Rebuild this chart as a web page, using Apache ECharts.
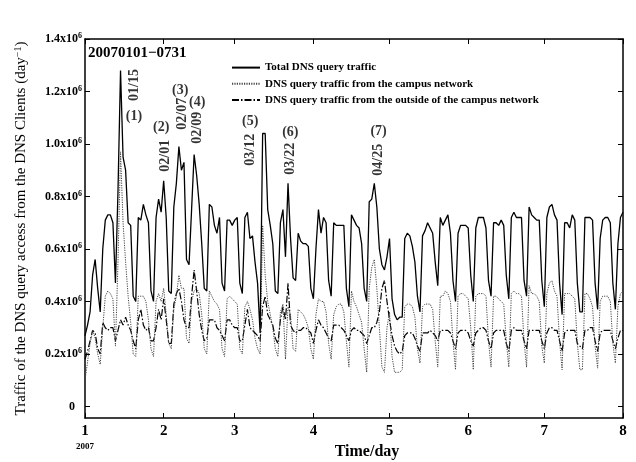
<!DOCTYPE html>
<html><head><meta charset="utf-8">
<script src="https://cdn.jsdelivr.net/npm/echarts@6/dist/echarts.min.js"></script>
<style>html,body{margin:0;padding:0;background:#fff}#c{width:636px;height:462px}</style>
</head><body><div id="c"></div>
<script>
// x = day of year 2007 (0 = Jan 1); month ticks at month starts
const monthStartDays = [0, 31, 59, 90, 120, 151, 181, 212];
const monthLabels = ['1', '2', '3', '4', '5', '6', '7', '8'];
const yTicks = [0, 0.2, 0.4, 0.6, 0.8, 1.0, 1.2, 1.4]; // x10^6

// daily traffic, x10^6 (Mon..Sun rows)
const totalTraffic = [
0.27,0.31,0.36,0.50,0.56,0.45,0.36,
0.60,0.71,0.73,0.73,0.70,0.47,0.82,
1.28,0.95,0.90,0.70,0.69,0.42,0.40,
0.72,0.71,0.77,0.73,0.70,0.44,0.40,
0.72,0.79,0.74,0.86,0.72,0.44,0.43,
0.76,0.85,0.99,0.90,0.93,0.56,0.54,
0.75,0.96,0.88,0.77,0.62,0.45,0.44,
0.77,0.76,0.69,0.66,0.72,0.47,0.44,
0.71,0.71,0.69,0.71,0.72,0.47,0.43,
0.72,0.74,0.64,0.65,0.55,0.47,0.28,
1.04,1.04,0.75,0.69,0.62,0.44,0.43,
0.70,0.75,0.57,0.85,0.64,0.49,0.48,
0.66,0.63,0.62,0.62,0.61,0.45,0.41,
0.60,0.75,0.66,0.72,0.70,0.48,0.42,
0.70,0.69,0.69,0.69,0.69,0.45,0.38,
0.73,0.71,0.69,0.68,0.62,0.45,0.40,
0.78,0.79,0.85,0.76,0.60,0.54,0.52,
0.57,0.64,0.41,0.35,0.33,0.34,0.34,
0.64,0.66,0.65,0.61,0.55,0.42,0.36,
0.65,0.67,0.70,0.68,0.66,0.55,0.46,
0.72,0.69,0.71,0.73,0.66,0.48,0.40,
0.66,0.69,0.69,0.69,0.68,0.50,0.40,
0.68,0.72,0.72,0.72,0.68,0.48,0.42,
0.70,0.70,0.69,0.71,0.69,0.50,0.41,
0.72,0.74,0.72,0.72,0.72,0.48,0.42,
0.76,0.73,0.72,0.71,0.71,0.48,0.38,
0.72,0.76,0.77,0.73,0.71,0.47,0.35,
0.70,0.70,0.68,0.73,0.71,0.47,0.36,
0.36,0.72,0.72,0.72,0.71,0.47,0.37,
0.64,0.71,0.72,0.72,0.70,0.47,0.37,
0.62,0.72,0.74
];
const campusTraffic = [
0.10,0.17,0.24,0.29,0.26,0.20,0.16,
0.30,0.42,0.44,0.43,0.41,0.23,0.55,
0.97,0.70,0.55,0.42,0.32,0.20,0.19,
0.42,0.42,0.42,0.40,0.33,0.22,0.19,
0.40,0.43,0.40,0.45,0.35,0.24,0.22,
0.37,0.42,0.50,0.45,0.45,0.26,0.24,
0.40,0.44,0.45,0.43,0.35,0.22,0.20,
0.44,0.42,0.40,0.39,0.37,0.22,0.19,
0.41,0.42,0.41,0.40,0.39,0.22,0.20,
0.38,0.40,0.37,0.33,0.26,0.22,0.20,
0.69,0.50,0.40,0.35,0.30,0.22,0.19,
0.36,0.39,0.18,0.38,0.35,0.22,0.21,
0.37,0.36,0.35,0.33,0.30,0.22,0.18,
0.35,0.41,0.40,0.40,0.36,0.24,0.18,
0.35,0.38,0.39,0.39,0.36,0.25,0.15,
0.44,0.40,0.38,0.35,0.32,0.22,0.13,
0.45,0.53,0.56,0.45,0.30,0.15,0.13,
0.30,0.36,0.19,0.13,0.13,0.13,0.14,
0.38,0.39,0.39,0.38,0.34,0.22,0.165,
0.38,0.39,0.39,0.39,0.37,0.25,0.15,
0.42,0.42,0.44,0.43,0.40,0.25,0.14,
0.42,0.43,0.43,0.42,0.41,0.30,0.14,
0.42,0.43,0.43,0.43,0.42,0.25,0.15,
0.42,0.42,0.41,0.40,0.39,0.25,0.15,
0.43,0.44,0.43,0.43,0.42,0.25,0.15,
0.46,0.43,0.43,0.42,0.40,0.23,0.165,
0.43,0.47,0.48,0.44,0.42,0.25,0.14,
0.43,0.43,0.43,0.42,0.41,0.24,0.14,
0.14,0.43,0.43,0.41,0.38,0.23,0.146,
0.40,0.42,0.42,0.42,0.40,0.24,0.165,
0.38,0.43,0.44
];
const outsideTraffic = [
0.18,0.21,0.25,0.29,0.28,0.22,0.20,
0.32,0.30,0.29,0.30,0.30,0.25,0.29,
0.33,0.31,0.34,0.31,0.29,0.25,0.22,
0.33,0.37,0.31,0.29,0.30,0.25,0.25,
0.30,0.37,0.33,0.41,0.33,0.24,0.24,
0.39,0.43,0.45,0.40,0.33,0.30,0.30,
0.42,0.52,0.44,0.35,0.29,0.25,0.26,
0.33,0.33,0.33,0.30,0.29,0.27,0.25,
0.33,0.33,0.31,0.30,0.30,0.25,0.25,
0.31,0.37,0.30,0.29,0.28,0.27,0.25,
0.38,0.42,0.35,0.33,0.31,0.26,0.24,
0.33,0.38,0.33,0.47,0.31,0.29,0.28,
0.29,0.29,0.30,0.30,0.29,0.28,0.24,
0.29,0.33,0.31,0.30,0.28,0.26,0.25,
0.31,0.31,0.31,0.30,0.29,0.27,0.25,
0.29,0.30,0.29,0.29,0.28,0.27,0.24,
0.27,0.30,0.30,0.32,0.36,0.45,0.48,
0.40,0.33,0.27,0.23,0.21,0.20,0.21,
0.27,0.28,0.28,0.28,0.26,0.23,0.21,
0.28,0.28,0.28,0.29,0.28,0.27,0.25,
0.29,0.29,0.29,0.29,0.28,0.25,0.22,
0.28,0.29,0.29,0.29,0.28,0.25,0.23,
0.28,0.29,0.30,0.30,0.29,0.25,0.22,
0.28,0.29,0.29,0.29,0.29,0.24,0.21,
0.29,0.30,0.29,0.29,0.29,0.25,0.22,
0.29,0.29,0.29,0.29,0.29,0.25,0.22,
0.28,0.30,0.30,0.29,0.29,0.25,0.21,
0.28,0.29,0.29,0.29,0.29,0.24,0.23,
0.22,0.29,0.29,0.30,0.30,0.25,0.21,
0.28,0.29,0.29,0.29,0.29,0.25,0.22,
0.26,0.29,0.29
];

// peak annotations: label text and anchor [day, value x10^6]
const peakNumbers = ['(1)', '(2)', '(3)', '(4)', '(5)', '(6)', '(7)'];
const peakDates = ['01/15', '02/01', '02/07', '02/09', '03/12', '03/22', '04/25'];
const peakNumberAnchors = [[19.3,1.104],[30.0,1.062],[37.5,1.203],[44.2,1.157],[65.1,1.085],[80.9,1.043],[115.7,1.047]];
const peakDateAnchors = [[19.3,1.225],[31.6,0.955],[38.3,1.115],[44.2,1.062],[65.1,0.978],[80.9,0.944],[115.7,0.94]];

const seriesNames = ['Total DNS query traffic', 'DNS query traffic from the campus network', 'DNS query traffic from the outside of the campus network'];

const F = 'Liberation Serif';
const toXY = arr => arr.map((v, i) => [i, v]);
const labelOf = v => { const k = monthStartDays.indexOf(v); return k < 0 ? '' : monthLabels[k]; };

const chart = echarts.init(document.getElementById('c'), null, {renderer: 'canvas'});
const axisLine = {show: true, onZero: false, lineStyle: {color: '#000', width: 1.5}};
const clear = 'rgba(0,0,0,0)';
chart.setOption({
  animation: false,
  backgroundColor: '#fff',
  title: {text: '20070101\u22120731', left: 88, top: 46, padding: 0,
    textStyle: {fontFamily: F, fontWeight: 'bold', fontSize: 15, color: '#000'}},
  legend: {
    data: seriesNames, orient: 'vertical', left: 231, top: 62, padding: 0,
    itemWidth: 28, itemHeight: 14, itemGap: 5,
    textStyle: {fontFamily: F, fontWeight: 'bold', fontSize: 11, color: '#000'}
  },
  grid: {left: 85, right: 13, top: 39, bottom: 44, containLabel: false, outerBoundsMode: 'none'},
  xAxis: [{
    type: 'value', min: 0, max: 212, position: 'bottom',
    axisLine: axisLine, splitLine: {show: false},
    axisTick: {inside: true, length: 5, customValues: monthStartDays, lineStyle: {color: '#000', width: 1}},
    axisLabel: {customValues: monthStartDays, margin: 5,
      formatter: v => v === 0 ? '{n|' + labelOf(v) + '}\n{y|2007}' : '{n|' + labelOf(v) + '}',
      rich: {n: {fontFamily: F, fontWeight: 'bold', fontSize: 15, color: '#000', lineHeight: 17},
             y: {fontFamily: F, fontWeight: 'bold', fontSize: 9, color: '#000', lineHeight: 13}}},
    name: 'Time/day', nameLocation: 'middle', nameGap: 26, nameMoveOverlap: false,
    nameTextStyle: {fontFamily: F, fontWeight: 'bold', fontSize: 16, color: '#000', padding: [0, 0, 0, 26]}
  }, {
    type: 'value', min: 0, max: 212, position: 'top',
    axisLine: axisLine, splitLine: {show: false},
    axisTick: {inside: true, length: 5, customValues: monthStartDays, lineStyle: {color: '#000', width: 1}},
    axisLabel: {show: false}
  }],
  yAxis: [{
    type: 'value', min: -0.044, max: 1.4, position: 'left',
    axisLine: axisLine, splitLine: {show: false},
    axisTick: {inside: true, length: 5, customValues: yTicks, lineStyle: {color: '#000', width: 1}},
    axisLabel: {customValues: yTicks, margin: 3,
      formatter: v => v === 0 ? '{b|0}{p| }' : '{b|' + v.toFixed(1) + 'x10}{s|6}',
      rich: {b: {fontFamily: F, fontWeight: 'bold', fontSize: 12, color: '#000', lineHeight: 14},
             s: {fontFamily: F, fontWeight: 'bold', fontSize: 8, color: '#000', lineHeight: 8, verticalAlign: 'top'},
             p: {width: 7, fontSize: 8}}},
    name: '{t|Traffic of the DNS query access from the DNS Clients (day}{s|\u22121}{t|)}',
    nameLocation: 'middle', nameGap: 56, nameMoveOverlap: false,
    nameTextStyle: {rich: {t: {fontFamily: F, fontSize: 15, color: '#000', lineHeight: 16},
                           s: {fontFamily: F, fontSize: 10, color: '#000', lineHeight: 10, verticalAlign: 'top'}}}
  }, {
    type: 'value', min: -0.044, max: 1.4, position: 'right',
    axisLine: axisLine, splitLine: {show: false},
    axisTick: {inside: true, length: 5, customValues: yTicks, lineStyle: {color: '#000', width: 1}},
    axisLabel: {show: false}
  }],
  series: [
    {name: seriesNames[2], type: 'line', data: toXY(outsideTraffic), symbol: 'none', showSymbol: false,
     lineStyle: {color: '#000', width: 1.2, type: [7, 2, 1.5, 2]}, itemStyle: {color: clear}},
    {name: seriesNames[1], type: 'line', data: toXY(campusTraffic), symbol: 'none', showSymbol: false,
     lineStyle: {color: '#444', width: 1, type: [1.2, 1.2]}, itemStyle: {color: clear}},
    {name: seriesNames[0], type: 'line', data: toXY(totalTraffic), symbol: 'none', showSymbol: false,
     lineStyle: {color: '#000', width: 1.3, type: 'solid'}, itemStyle: {color: clear}},
    {type: 'scatter', silent: true, symbolSize: 1, itemStyle: {color: clear},
     data: peakNumberAnchors.map((p, i) => [p[0], p[1], peakNumbers[i]]),
     label: {show: true, position: 'inside', formatter: p => p.data[2],
       fontFamily: F, fontWeight: 'bold', fontSize: 14, color: '#000'}},
    {type: 'scatter', silent: true, symbolSize: 1, itemStyle: {color: clear},
     data: peakDateAnchors.map((p, i) => [p[0], p[1], peakDates[i]]),
     label: {show: true, position: 'inside', rotate: 90, formatter: p => p.data[2],
       fontFamily: F, fontWeight: 'bold', fontSize: 14, color: '#000'}}
  ]
});
</script></body></html>
